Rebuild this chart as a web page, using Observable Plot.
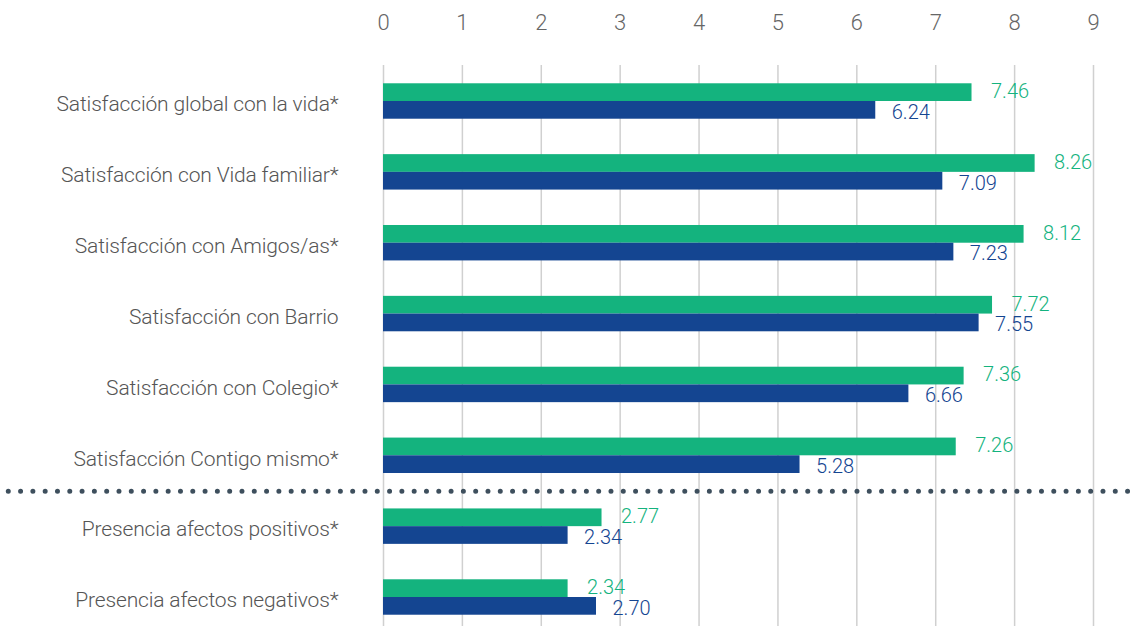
<!DOCTYPE html>
<html>
<head>
<meta charset="utf-8">
<script src="https://cdn.jsdelivr.net/npm/d3@7"></script>
<script src="https://cdn.jsdelivr.net/npm/@observablehq/plot@0.6"></script>
<style>
  html, body { margin: 0; padding: 0; background: #fff; overflow: hidden; }
  #chart svg { font-family: "Roboto", sans-serif; font-weight: 300; }
  #chart svg g[aria-label="y-axis tick label"] text { letter-spacing: -0.15px; }
</style>
</head>
<body>
<div id="chart"></div>
<script>
const categories = [
  "Satisfacción global con la vida*",
  "Satisfacción con Vida familiar*",
  "Satisfacción con Amigos/as*",
  "Satisfacción con Barrio",
  "Satisfacción con Colegio*",
  "Satisfacción Contigo mismo*",
  "Presencia afectos positivos*",
  "Presencia afectos negativos*"
];
const greenValues = [7.46, 8.26, 8.12, 7.72, 7.36, 7.26, 2.77, 2.34];
const blueValues  = [6.24, 7.09, 7.23, 7.55, 6.66, 5.28, 2.34, 2.70];
const xTicks = [0, 1, 2, 3, 4, 5, 6, 7, 8, 9];
const separatorBefore = "Presencia afectos positivos*";

const rows = categories.map((c, i) => ({cat: c, green: greenValues[i], blue: blueValues[i]}));

const GREEN = "#14b37e";
const BLUE = "#144591";
const height = 633, marginTop = 65, marginBottom = 0;
const paddingInner = 0.5, paddingOuter = 0.258;
const step = (height - marginTop - marginBottom) / (categories.length - paddingInner + 2 * paddingOuter);
const bw = step * (1 - paddingInner);

const chart = Plot.plot({
  width: 1137,
  height,
  marginTop,
  marginBottom,
  marginLeft: 383,
  marginRight: 44,
  style: {fontSize: "20px", color: "#555", background: "#fff"},
  x: {domain: [0, 9], ticks: xTicks, axis: null},
  y: {domain: categories, paddingInner, paddingOuter, round: false, axis: null},
  marks: [
    Plot.gridX(xTicks, {stroke: "#d0d0d0", strokeOpacity: 1, strokeWidth: 1.5}),
    Plot.axisX(xTicks, {anchor: "top", tickSize: 0, tickPadding: 36, fontSize: 22, fill: "#666", label: null}),
    Plot.axisY({anchor: "left", tickSize: 0, tickPadding: 45, dy: 3, fontSize: 21, fill: "#555", label: null}),
    Plot.barX(rows, {x: "green", y: "cat", fill: GREEN, insetBottom: bw / 2}),
    Plot.barX(rows, {x: "blue", y: "cat", fill: BLUE, insetTop: bw / 2}),
    Plot.text(rows, {x: "green", y: "cat", dy: -bw / 4 - 1, dx: 19, textAnchor: "start", text: d => d.green.toFixed(2), fill: GREEN, fontSize: 20}),
    Plot.text(rows, {x: "blue", y: "cat", dy: bw / 4 + 2, dx: 16, textAnchor: "start", text: d => d.blue.toFixed(2), fill: BLUE, fontSize: 20}),
    Plot.ruleY([separatorBefore], {y: d => d, dy: -step / 2, x1: -4.75, x2: 9.55, stroke: "#3e4f5d", strokeWidth: 5, strokeDasharray: "0,12.3", strokeLinecap: "round"})
  ]
});
document.getElementById("chart").appendChild(chart);
</script>
</body>
</html>
